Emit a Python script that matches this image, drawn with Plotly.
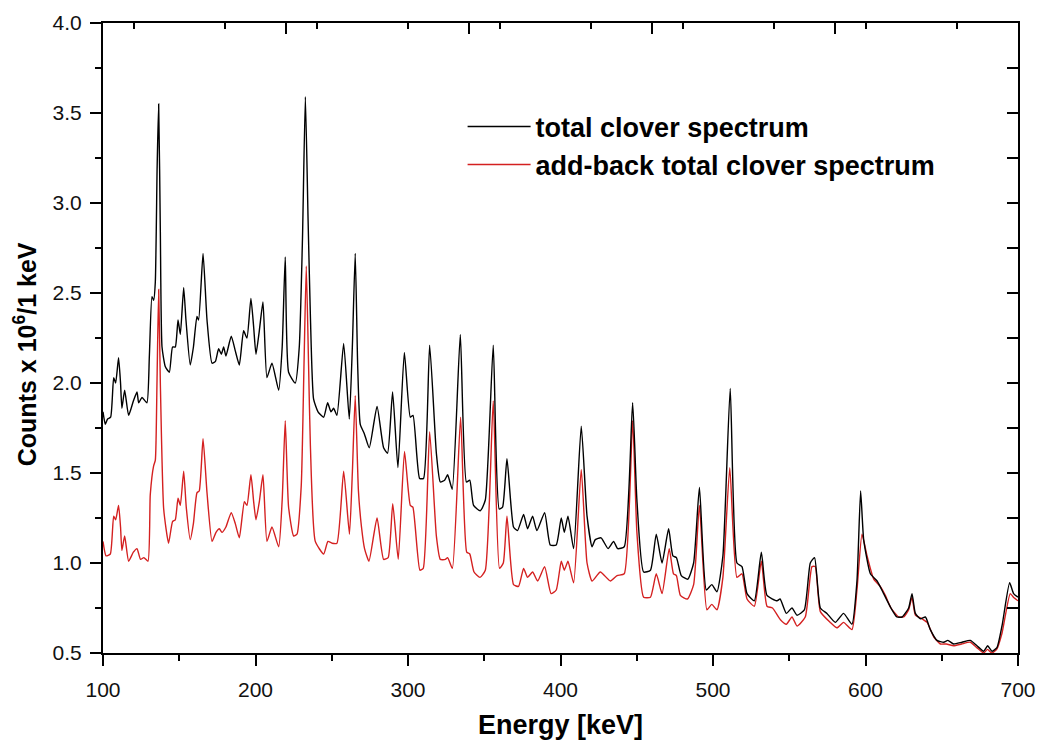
import plotly.graph_objects as go

# Total clover spectrum (energy in keV, counts in units of 10^6 per keV)
total_energy = [
    100, 101.5, 103, 105, 107, 108.3, 110.2, 111.5, 112.4, 114.2, 116.8, 119.9, 122.3, 123.4,
    125.6, 128.8, 130.4, 132.1, 133.2, 134.3, 135.5, 136.5, 137.6, 138.7, 140.9, 143.5, 145.6,
    147.4, 149.2, 150.7, 152.9, 154.4, 157.2, 159.3, 161.6, 162.7, 165.6, 168.2, 171.5, 173.7,
    175.8, 177.6, 179.1, 180.6, 184.1, 186.7, 189.4, 192.2, 194.4, 197.0, 198.8, 200.3, 202.5,
    204.9, 207.5, 210.8, 215.2, 217.5, 219.5, 221.7, 226.1, 228.7, 230.8, 232.7, 234.5, 236.0,
    238.1, 241, 244.7, 247.3, 249.5, 251.2, 253.4, 257.8, 261.5, 263.5, 265.4, 267, 268.7,
    271.3, 274.6, 279.7, 284, 286.6, 289.9, 293.4, 297.6, 301.5, 303.3, 307.6, 310.2, 314.2,
    318.6, 321.2, 324, 326.0, 329.0, 334.3, 338.3, 340.5, 343.0, 347.4, 350.7, 355.9, 359.8,
    362, 364.9, 369.2, 371.8, 375.8, 378.4, 381.7, 384.5, 389.6, 393.3, 397.2, 400.5, 402.5,
    404.9, 408.6, 413.6, 417.4, 420.7, 422.8, 426.6, 431.2, 434.8, 437.5, 441.8, 447.3, 450.1,
    454.5, 459, 462.8, 466.6, 470.9, 473.7, 476, 479.2, 483.5, 487.3, 491.1, 495.6, 499.2,
    502.6, 506.5, 511.3, 515.7, 519, 522.3, 527.1, 531.7, 535.4, 542, 544, 548.1, 551.8,
    555.1, 559.9, 563.8, 566.6, 570.4, 574.7, 580.2, 585.6, 591.1, 594.4, 596.8, 598.8, 603.2,
    607.6, 611.9, 616.7, 620.6, 624, 628.3, 630.5, 632.7, 636, 639.3, 642.5, 646.9, 651.3,
    654, 657.8, 663.3, 668.7, 673.1, 677.5, 680.1, 682.9, 686.2, 689.5, 694.5, 697.1, 700,
]
total_counts = [
    1.84, 1.77, 1.80, 1.81, 2.03, 2.00, 2.14, 2.00, 1.86, 1.96, 1.82, 1.90, 1.95, 1.89,
    1.92, 1.89, 2.15, 2.48, 2.46, 2.56, 3.20, 3.55, 2.84, 2.20, 2.09, 2.06, 2.20,
    2.20, 2.35, 2.27, 2.53, 2.35, 2.10, 2.20, 2.37, 2.35, 2.72, 2.35, 2.11, 2.12,
    2.19, 2.16, 2.20, 2.15, 2.26, 2.18, 2.10, 2.29, 2.25, 2.47, 2.31, 2.16, 2.29,
    2.45, 2.03, 2.11, 1.96, 2.20, 2.70, 2.06, 2.00, 2.20, 2.80, 3.59, 2.90, 2.37,
    1.91, 1.84, 1.81, 1.89, 1.84, 1.86, 1.82, 2.22, 1.80, 2.20, 2.72, 2.10, 1.77,
    1.72, 1.64, 1.87, 1.64, 1.61, 1.95, 1.53, 2.17, 1.81, 1.82, 1.47, 1.47, 2.21,
    1.61, 1.45, 1.46, 1.49, 1.41, 2.27, 1.45, 1.46, 1.32, 1.29, 1.35, 2.21, 1.30,
    1.31, 1.58, 1.20, 1.18, 1.27, 1.19, 1.26, 1.18, 1.28, 1.10, 1.10, 1.25, 1.17,
    1.26, 1.08, 1.76, 1.26, 1.09, 1.13, 1.14, 1.08, 1.12, 1.08, 1.09, 1.89, 1.35,
    0.95, 0.96, 1.16, 1.00, 1.19, 1.04, 1.03, 0.93, 0.91, 1.00, 1.42, 0.85, 0.88,
    0.84, 1.04, 1.97, 1.00, 0.98, 0.83, 0.79, 1.06, 0.82, 0.79, 0.80, 0.72, 0.75,
    0.71, 0.74, 1.00, 1.03, 0.75, 0.72, 0.67, 0.72, 0.66, 0.90, 1.40, 1.13, 0.94,
    0.90, 0.83, 0.75, 0.70, 0.70, 0.75, 0.83, 0.72, 0.69, 0.70, 0.63, 0.57, 0.56,
    0.57, 0.55, 0.56, 0.57, 0.54, 0.51, 0.54, 0.51, 0.53, 0.65, 0.89, 0.83, 0.81,
]

# Add-back total clover spectrum
addback_energy = [
    100, 102, 104.8, 107, 108.3, 110.2, 111.5, 112.4, 114.2, 116.8, 119.9, 122.3, 124.6,
    126.8, 129.5, 131, 133.2, 134.3, 135.4, 136.5, 137.6, 139.8, 143, 145.6, 147.4, 149.2,
    150.7, 152.9, 154.6, 157.2, 159.3, 161.6, 163.1, 165.6, 168.2, 171.5, 174.1, 176.3, 178,
    180.6, 184.1, 186.7, 189.4, 192.7, 194.4, 197, 198.8, 200.3, 202.5, 204.9, 207.5, 210.8,
    215.2, 217.5, 219.5, 221.7, 225, 227.2, 230, 231.8, 233.3, 234.8, 236, 239.2, 244.7,
    247.5, 250.2, 253.4, 257.8, 261.6, 263.5, 265.4, 267.5, 269.5, 271.5, 274.4, 279.7, 284,
    287, 290, 293.6, 297.7, 301.5, 303.2, 307.8, 310, 314.2, 318.6, 321.2, 324.5, 326, 329.1,
    334.5, 338.5, 340.5, 343.3, 347.2, 350.7, 355.9, 360, 362.5, 364.9, 369.2, 372.5, 375.8,
    378.4, 381.7, 385, 389.6, 393.8, 397.2, 400.5, 402.5, 404.9, 408.6, 413.6, 417.4, 420.7,
    426.1, 432.7, 437.1, 441.8, 447.3, 450.1, 454.5, 459, 462.8, 466.6, 471.3, 474.1, 476,
    478.6, 483.2, 487.3, 491.1, 496, 499.2, 502.6, 506.5, 511, 515.7, 519, 522.3, 527.1,
    531.7, 535.4, 539, 544.2, 548.1, 551.8, 555.1, 560.5, 564.9, 567, 570.4, 576.9, 581.3,
    585.6, 591.1, 594.4, 597.7, 601, 605.4, 609.7, 613, 616.7, 621.7, 625, 628.3, 630.5,
    632.7, 637.1, 640.4, 644.7, 649.1, 653, 657.8, 663, 668.7, 673, 677.5, 680, 682.9, 686,
    689.5, 694.9, 697, 700,
]
addback_counts = [
    1.12, 1.04, 1.05, 1.26, 1.24, 1.32, 1.20, 1.07, 1.15, 1.01, 1.06, 1.08, 1.02,
    1.03, 1.01, 1.38, 1.54, 1.57, 2.00, 2.52, 2.00, 1.30, 1.11, 1.23, 1.24, 1.36,
    1.32, 1.51, 1.31, 1.13, 1.22, 1.39, 1.40, 1.69, 1.39, 1.12, 1.17, 1.19, 1.17,
    1.20, 1.28, 1.22, 1.14, 1.34, 1.32, 1.49, 1.34, 1.24, 1.34, 1.49, 1.12, 1.20,
    1.09, 1.35, 1.79, 1.31, 1.15, 1.16, 1.43, 2.10, 2.65, 2.10, 1.65, 1.12, 1.05,
    1.12, 1.11, 1.11, 1.51, 1.16, 1.50, 1.93, 1.40, 1.20, 1.08, 1.01, 1.25, 1.02,
    1.03, 1.33, 1.02, 1.62, 1.32, 1.31, 0.96, 0.97, 1.73, 1.15, 1.02, 1.02, 1.03, 0.97,
    1.81, 1.06, 1.05, 0.95, 0.92, 0.96, 1.90, 0.97, 1.00, 1.26, 0.88, 0.87, 0.97,
    0.92, 0.95, 0.90, 0.98, 0.83, 0.85, 1.01, 0.96, 1.01, 0.89, 1.52, 1.00, 0.90,
    0.95, 0.90, 0.93, 0.94, 1.79, 1.17, 0.81, 0.81, 0.94, 0.83, 1.08, 0.94, 0.93,
    0.82, 0.80, 0.88, 1.32, 0.74, 0.77, 0.74, 0.92, 1.53, 0.92, 0.94, 0.80, 0.76,
    1.01, 0.76, 0.75, 0.685, 0.66, 0.70, 0.65, 0.70, 0.98, 0.98, 0.73, 0.67, 0.64,
    0.67, 0.63, 0.85, 1.16, 1.04, 0.91, 0.87, 0.82, 0.75, 0.70, 0.70, 0.74, 0.81,
    0.71, 0.69, 0.67, 0.59, 0.55, 0.55, 0.54, 0.55, 0.56, 0.53, 0.50, 0.52, 0.50, 0.52,
    0.61, 0.83, 0.81, 0.79,
]

FONT = "Liberation Sans, Arial, sans-serif"

fig = go.Figure()

fig.add_trace(go.Scatter(
    x=addback_energy, y=addback_counts, mode="lines",
    name="add-back total clover spectrum",
    line=dict(color="#d42020", width=1.4, shape="spline", smoothing=0.5),
    legendrank=2,
))
fig.add_trace(go.Scatter(
    x=total_energy, y=total_counts, mode="lines",
    name="total clover spectrum",
    line=dict(color="#000000", width=1.4, shape="spline", smoothing=0.5),
    legendrank=1,
))
# empty trace that carries the mirrored top/right frame axes
fig.add_trace(go.Scatter(x=[], y=[], xaxis="x2", yaxis="y2",
                         showlegend=False, hoverinfo="skip"))

axis_common = dict(
    showline=True, linecolor="black", linewidth=2,
    showgrid=False, zeroline=False, automargin=False,
    tickcolor="black", tickwidth=2,
    tickfont=dict(family=FONT, size=21, color="#111111"),
)

fig.update_layout(
    width=1043, height=740,
    margin=dict(l=103, r=25, t=23, b=87),
    paper_bgcolor="white", plot_bgcolor="white",
    xaxis=dict(
        range=[100, 700], tick0=100, dtick=100,
        ticks="outside", ticklen=11,
        minor=dict(dtick=50, ticks="outside", ticklen=6, tickwidth=2, tickcolor="black"),
        ticklabelstandoff=6,
        title=dict(text="<b>Energy [keV]</b>",
                   font=dict(family=FONT, size=27, color="black"), standoff=16),
        **axis_common,
    ),
    yaxis=dict(
        range=[0.5, 4.0], tick0=0.5, dtick=0.5, tickformat=".1f",
        ticks="outside", ticklen=11,
        minor=dict(dtick=0.25, ticks="outside", ticklen=6, tickwidth=2, tickcolor="black"),
        ticklabelstandoff=4,
        **axis_common,
    ),
    xaxis2=dict(
        overlaying="x", side="top", anchor="y",
        range=[100, 700], tick0=100, dtick=120,
        ticks="inside", ticklen=11, showticklabels=False,
        minor=dict(dtick=60, ticks="inside", ticklen=6, tickwidth=2, tickcolor="black"),
        **axis_common,
    ),
    yaxis2=dict(
        overlaying="y", side="right", anchor="x",
        range=[0.5, 4.0], tick0=0.5, dtick=0.25,
        ticks="inside", ticklen=11, showticklabels=False,
        **axis_common,
    ),
    legend=dict(
        x=0.393, y=0.874, xanchor="left", yanchor="top",
        bgcolor="rgba(0,0,0,0)", borderwidth=0,
        itemwidth=63,
        font=dict(family=FONT, size=27, color="black", weight="bold"),
        tracegroupgap=0,
    ),
    annotations=[dict(
        text="<b>Counts x 10<sup>6</sup>/1 keV</b>",
        xref="paper", yref="paper", x=-0.085, y=0.4746,
        xanchor="center", yanchor="middle", textangle=-90, showarrow=False,
        font=dict(family=FONT, size=25, color="black"),
    )],
)

fig.write_html("out.html")
